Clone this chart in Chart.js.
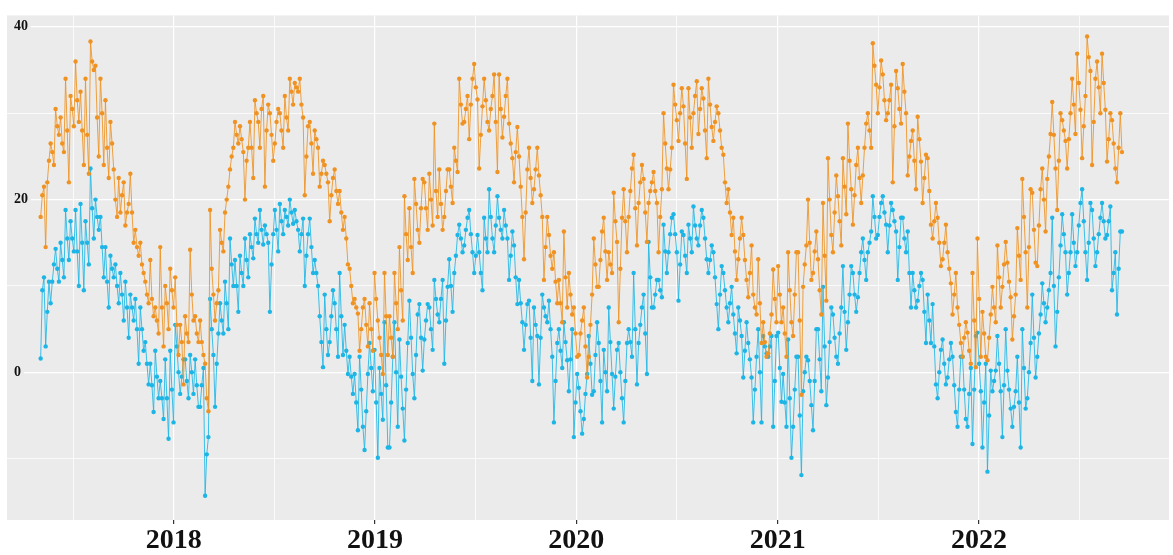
<!DOCTYPE html>
<html>
<head>
<meta charset="utf-8">
<title>Daily temperature 2017-2022</title>
<script src="https://cdn.jsdelivr.net/npm/chart.js@4.4.1/dist/chart.umd.min.js"></script>
<style>
  html, body { margin: 0; padding: 0; background: #fff; }
  #wrap { width: 1173px; height: 555px; }
</style>
</head>
<body>
<div id="wrap"><canvas id="tempChart" width="1173" height="555"></canvas></div>

<script>
// time axis: decimal years, one reading every 3 days
const startYear = 2017.3392;
const stepYears = 0.0082508;
const yearTicks = [2017.5, 2018, 2018.5, 2019, 2019.5, 2020, 2020.5, 2021, 2021.5, 2022, 2022.5];
const tempTicks = [-10, 0, 10, 20, 30, 40];

// daily max (orange)
const tmax = [
  18,20.5,21.5, 14.5,22,24.5, 26.5,25.5,24, 30.5,28.5,27.5, 29.5,26.5,25.5, 34,28,22, 32,30.5,28.5, 36,31.5,29, 32.5,28,24, 34,27.5,23,
  38.3,36,35, 35.5,29.5,25, 34,30,24, 31.5,26,22.5, 29,26.5,23.5, 20,18,22.5, 18.5,20.5,22, 17,18.5,19.5, 23,18.5,15, 16.5,14.5,13.5,
  15,12.5,11.5, 10.5,9,8, 13,8.5,6.5, 7.5,6,4.5, 14.5,7.5,3, 10,8,5, 12,9.5,7.5, 11,5.5,2, 5.5,3.5,-1.4, 6.5,4.5,3.5, 14.2,9,6,
  // 2018
  6.5,4.5,3.5, 6,3.5,2, 1,-3,-4.5, 18.8,12,9, 6,8,9.5, 16.5,15,14, 18.5,20,21.5, 23.5,25,26, 29,27.5,26.5, 28.5,27,25.5,
  20,24.5,26, 29,26,22.5, 31.5,30,29, 26,30.5,32, 21.5,28,31, 30,27.5,24.5, 26.5,29,30.5, 30,28,26, 32,29.5,28, 34,32.5,31,
  33.5,33,32.5, 34,31,29.5, 20.5,25,28.5, 29,26.5,23, 28,27,26, 21.5,23,24.5, 24,23,22, 17.5,20.5,22.5, 23.5,21,19.5, 21,18.5,16.5,
  18,15.5,12.5, 12,10,8, 8.5,7.5,6.8, 2.5,5,7.5, 8.5,5.5,3, 8,5,2.5, 11.5,8.5,6, 4,2,-0.2, 11.5,6.5,2,
  // 2019
  6.5,4,1.8, 11.5,8,5, 14.5,9.5,6, 20.4,16,13, 19,14.5,11.5, 22.4,19.5,16.5, 15,19,22.4, 22,19,16.5, 23,20,17, 28.8,21,18,
  23.5,19.5,16.5, 18,21,23.5, 23.5,21.5,19.6, 26,24.5,23.2, 34,31,28.8, 29,30.5,32, 27,31,34, 35.7,33,31.6, 23.6,27.5,30.8, 34,31.5,29,
  28,30.5,32, 34.5,29,23.2, 34.5,30.5,27.2, 29.6,32,34, 28.8,26.5,24.8, 22,25.5,28.4, 25,21.5,18, 13.1,18.5,23.5, 26,22.5,19.6, 21.2,23.5,26,
  22.8,20.5,18, 10.7,14.5,18, 15.9,13.5,12, 13.9,10.5,8, 10.7,8,5.8, 16.3,11,7.5, 11.5,9,6.7, 7.5,4.5,1.8, 2,4.5,6,
  // 2020
  7.5,3,-0.6, 1.8,5.5,9, 15.5,12.5,9.9, 9.9,13,16.3, 17.9,14,10.7, 13.9,12.5,11.5, 20.8,17.5,15.1, 5.8,12,17.9, 21.2,17.5,13.9, 18,21,23.6,
  25.2,19,14.7, 19.6,22,24, 22.4,18.5,15.1, 19.6,21,22, 23.2,21,19.6, 13.9,18,21.2, 30,26.5,23.6, 21.2,23.5,26, 33.3,31,29.2, 26.8,30,32.9,
  30.8,26.5,22.4, 32.9,29.5,26, 30,32,33.7, 27.6,30.5,32.9, 31.7,28,24.8, 34,31,28.4, 26.8,29,30.8, 30,28,26, 25.2,22,19.6, 21.2,18.5,15.9,
  17.9,14,10.7, 13.1,15.5,17.9, 15.9,13,10.7, 8.7,11.5,14.7, 9,7.5,6.7, 13.1,8,3.4, 5.8,3.5,1.8, 2.2,4.5,6.7, 11.9,8.5,5.8,
  // 2021
  12.3,9,5.8, 7.5,4.5,1.8, 13.9,9.5,5.8, 4.2,9,13.9, 13.9,6,-2.6, 9.9,12.5,14.7, 20,15,10.7, 11.5,14,16.3, 13.1,9.5,6.7, 19.6,13.5,8.3,
  24.8,20,15.9, 13.9,18.5,22.8, 20.4,17.5,14.7, 24.8,21.5,18.3, 28.8,24.5,21.2, 17.1,20.5,24, 26,22.5,19.6, 22.8,26,28.8, 30,28,26, 38.1,35.5,33.3,
  30,33,36.1, 34.5,31.5,29.2, 30,31.5,33.3, 22,28.5,34.9, 32.9,30.5,28.8, 35.7,32.5,30, 22.8,25,26.8, 28,24.5,21.2, 29.6,27,24.4, 19.6,22.5,25.2,
  24.8,21,17.1, 15.5,17.5,19.6, 17.9,15,12.3, 13.1,15,17.1, 13.9,12,10.3, 6.7,9,11.5, 7.5,5.5,3.4, 1.8,4,5.8, 4.6,2.5,1,
  // 2022
  11.5,6,0.6, 15.5,8.5,1.8, 7,4.5,1.8, 1.4,4,6.7, 9.9,7.5,5.8, 14.7,11,7.5, 9.9,12.5,15.1, 12.7,10.5,8.7, 3.8,6.5,9, 16.7,13.5,10.7,
  22.4,18,13.9, 7.5,14.5,21.2, 20.8,16.5,12.7, 12.3,17,21.2, 23.6,20,16.3, 22.4,25,27.6, 31.3,27.5,23.6, 18.8,24.5,30, 29.2,28,26.8, 23.6,27,30,
  34,31,27.6, 36.9,33.5,30.4, 24.8,28.5,32, 38.9,36.5,34.9, 24,29,34, 36,33,30, 36.9,33.5,30.4, 24.4,27,30, 29.2,26.5,23.6, 22,26,30, 25.5
];

// daily min (blue)
const tmin = [
  1.6,9.5,11, 3,7,10.5, 8,10.5,12.5, 14.3,12,10.5, 15,13,11, 18.8,15.5,13, 17.5,15.5,14, 18.8,14,10, 19.5,15,9.5, 17.5,15,12.5,
  23.6,19,15.5, 20,18,16.5, 18,14.5,11, 14.5,10.5,7.5, 13.5,12,11, 12.5,10,8, 11.5,9,6, 10.5,7.5,4, 9,7.5,6, 8.5,5,1,
  7.5,5,2.5, 3.5,1,-1.4, 1,-1.5,-4.6, 2.5,-0.5,-3, -1,-3,-5.4, 1.5,-3,-7.7, 2.5,-2,-5.8, 5.5,3,0, -2.5,-0.5,1.5, 1.5,-1,-3, 2,0,-2.5,
  // 2018
  1.5,-1.5,-4, -4,-1.5,0.5, -14.3,-9.5,-7.5, 8.5,5,2, -4,1,4.5, 8,6,4.5, 10.5,8,5, 15.5,12.5,10, 13,10,7, 13.5,11.5,10,
  15.5,13,11, 16,14.5,13.2, 17.8,16,15, 18.8,16.5,14.8, 17,16,15, 7,12.5,16, 18.8,16.5,14, 19.5,17.5,16, 18.8,18,17, 20,18.5,17.2,
  18.8,17.5,16.5, 14,16,17.8, 10,13.5,16, 17.8,14.5,11.5, 13,11.5,10, 6.5,3.5,0.6, 9,5,2, 3.5,6.5,9.5, 8,5,1.8, 11.5,6.5,2,
  5.5,2.5,-0.2, 1.8,-0.5,-2.5, -0.2,-3.5,-6.7, 1.8,-2,-6.3, -9,-4.5,-0.2, 3.4,0.5,-2.2, 2.6,-3.5,-9.9, 0.5,-2.5,-5.5, 5.8,-1.5,-8.7,
  // 2019
  -8.7,-3.5,1.8, 5.8,0,-6.3, 3.8,-0.5,-4.2, -7.9,-2,3.4, 8.3,4,-0.2, -3,2,6.7, 7.9,4,0.2, 3.8,6,7.9, 7.5,5,2.6, 10.7,8.5,6.7,
  5.8,8.5,10.7, 1,6,9.9, 13.1,10,7, 11.5,13.5,15.9, 17.1,15.5,13.9, 14.7,16.5,17.9, 18.8,16,13.9, 11.5,13.5,15.9, 13.9,11.5,9.5, 17.9,15.5,13.9,
  21.2,18,15.5, 13.9,17,20.4, 17.9,16.5,15.5, 18.8,17,15.5, 10.7,13.5,16.3, 14.7,11,7.9, 10.7,8,5.8, 2.6,5.5,7.9, 8.3,4,-1, 7.5,5.5,4.2,
  -1.4,4,9, 7.5,6.5,5.8, 8.3,5,1.8, -5.8,-1,3.4, 5,2.5,0.5, 5.8,3.5,1.4, -2.2,1.5,5, -7.5,-3.5,-0.2, -1.8,-4.5,-7.1,
  // 2020
  -5.4,-2.5,-0.2, 4.2,1,-2.6, -2.2,2,5.8, 3.4,-1,-5.8, 2.6,0,-2.2, 7.5,3.5,-0.2, -4.2,-0.5,2.6, 3.4,0,-3, -5.8,-1,3.4, 5,3.5,1.8,
  11.5,5,-1.4, 3.4,5.5,7.5, 9,4.5,-0.2, 15.1,11,7.5, 7.5,9,10.7, 10.7,9.5,8.7, 17.1,14,11.5, 13.9,16,17.9, 18.3,16,13.9, 8.3,12.5,16.3,
  15.9,13.5,11.5, 17.1,15.5,13.9, 19.2,17,15.5, 14.7,17,18.8, 17.9,15.5,13.1, 11.5,13,14.7, 13.9,11,7.9, 5,9,12.3, 11.5,9.5,7.5, 5.8,8,9.9,
  6.7,4.5,2.2, 7.5,6,4.2, -0.6,2.5,5.8, 3.4,1.5,-0.6, -5.8,-2,1.8, 5,0,-5.8, 4.2,3,2.2, 1.8,3,4.2, -6.3,-1,4.2,
  // 2021
  4.6,0.5,-3.4, -0.2,-3.5,-6.3, 3.8,-3,-9.9, -6.3,-2,1.8, 1.8,-5,-11.9, -2.2,0,1.8, 1.4,-1,-3.8, -6.7,-1,5, 5,1.5,-2.2, 9.9,3,-3.8,
  -0.6,3.5,7.5, 6.7,4,1.8, 1,4.5,7.5, 12.3,7,2.6, 5.8,9,12.3, 11.5,9,7, 8.7,11.5,13.9, 15.5,13,10.7, 13.9,15,16.3, 20.4,18,15.5,
  15.9,18,19.6, 20.4,18.5,17.1, 13.9,17,19.6, 18.8,17.5,16.3, 10.7,14.5,17.9, 17.9,15.5,13.9, 16.3,11.5,7.5, 11.5,9.5,7.5, 8.3,10,11.5, 10.7,7,3.4,
  9,6,3.4, 7.9,3,-1.4, -3,0,2.6, 3.8,1,-1.4, -0.6,1.5,3.4, 1.8,-1.5,-4.6, -6.3,-2,1.8, 1.8,-2,-5.4, -6.3,-2.5,0.5,
  // 2022
  -8.3,-2,4.2, 4.6,1,-2.2, -8.7,-3.5,1, -11.5,-5,0.2, -2.2,-1,0.2, 4.2,1,-2.2, -7.5,-1.5,5, 0.2,-2,-4.2, -6.3,-4,-2.2, 1.8,-3.5,-8.7,
  5,0.5,-4.2, -3,0,3.4, 9,4,-0.6, 1.8,4.5,6.7, 10.3,8,5.8, 7.5,9.5,11.5, 17.9,10,3, 7,11,14.7, 18.3,16,13.9, 9,11.5,13.9,
  18.3,15,12.3, 13.9,17,19.6, 21.2,17.5,13.9, 10.7,15,19.6, 18.8,15.5,12.3, 13.9,16,17.9, 19.6,17.5,15.5, 15.9,17.5,19.2, 9.5,11.5,13.9, 6.7,12,16.3, 16.3
];

const toPoints = arr => arr.map((v, i) => ({ x: startYear + i * stepYears, y: v }));

// grey ggplot-style panel behind the plot
const panelBg = {
  id: 'panelBg',
  beforeDraw(chart) {
    const { ctx, chartArea: a } = chart;
    ctx.save();
    ctx.fillStyle = '#fff';
    ctx.fillRect(0, 0, chart.width, chart.height);
    ctx.fillStyle = '#EBEBEB';
    ctx.fillRect(a.left, a.top, a.right - a.left, a.bottom - a.top);
    ctx.restore();
  }
};

const serif = 'Liberation Serif, "Times New Roman", serif';

new Chart(document.getElementById('tempChart'), {
  type: 'line',
  data: {
    datasets: [
      {
        label: 'Tmax',
        data: toPoints(tmax),
        borderColor: 'rgba(239,146,33,0.85)',
        borderWidth: 1,
        pointRadius: 2.2,
        pointBorderWidth: 0,
        pointBackgroundColor: '#EF9221'
      },
      {
        label: 'Tmin',
        data: toPoints(tmin),
        borderColor: 'rgba(28,182,230,0.85)',
        borderWidth: 1,
        pointRadius: 2.2,
        pointBorderWidth: 0,
        pointBackgroundColor: '#1CB5E5'
      }
    ]
  },
  options: {
    responsive: false,
    animation: false,
    layout: { padding: { left: 7, top: 7, right: 0, bottom: 0 } },
    plugins: { legend: { display: false }, tooltip: { enabled: false } },
    scales: {
      x: {
        type: 'linear',
        min: 2017.172,
        max: 2022.944,
        afterBuildTicks: s => { s.ticks = yearTicks.map(v => ({ value: v })); },
        afterFit: s => { s.height = 35; },
        border: { display: false },
        grid: {
          color: '#fff',
          lineWidth: c => (c.tick && Number.isInteger(c.tick.value)) ? 1.2 : 0.8,
          tickColor: c => (c.tick && Number.isInteger(c.tick.value)) ? '#333' : 'rgba(0,0,0,0)',
          tickLength: 4
        },
        ticks: {
          autoSkip: false,
          maxRotation: 0,
          padding: 0,
          color: '#111',
          font: { family: serif, size: 28, weight: 'bold' },
          callback: v => Number.isInteger(v) ? String(v) : ''
        }
      },
      y: {
        type: 'linear',
        min: -17.1,
        max: 41.33,
        afterBuildTicks: s => { s.ticks = tempTicks.map(v => ({ value: v })); },
        afterFit: s => { s.width = 0; },
        border: { display: false },
        grid: {
          color: '#fff',
          drawTicks: false,
          lineWidth: c => (c.tick && c.tick.value % 20 === 0) ? 1.2 : 0.8
        },
        ticks: {
          mirror: true,
          padding: 7,
          color: '#111',
          font: { family: serif, size: 14, weight: 'bold' },
          callback: v => v % 20 === 0 ? String(v) : '',
          showLabelBackdrop: true,
          backdropColor: c => (c.tick && c.tick.value % 20 === 0) ? '#EBEBEB' : 'rgba(0,0,0,0)',
          backdropPadding: { top: 1, bottom: 1, left: 7, right: 3 }
        }
      }
    }
  },
  plugins: [panelBg]
});
</script>
</body>
</html>
